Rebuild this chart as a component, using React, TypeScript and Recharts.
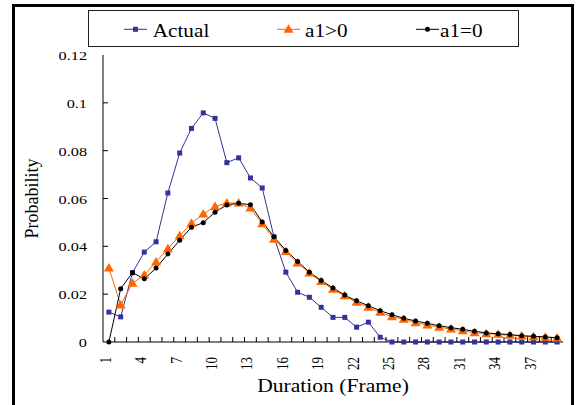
import React from "react";
import { LineChart, Line, XAxis, YAxis, Legend, Label } from "recharts";

const durations = [1,2,3,4,5,6,7,8,9,10,11,12,13,14,15,16,17,18,19,20,21,22,23,24,25,26,27,28,29,30,31,32,33,34,35,36,37,38,39];
const actual = [0.0125,0.0105,0.029,0.0376,0.0419,0.0623,0.079,0.0893,0.0958,0.0935,0.075,0.077,0.0686,0.0644,0.0439,0.0292,0.0208,0.0187,0.0145,0.0103,0.0103,0.0062,0.0083,0.002,0,0,0,0,0,0,0,0,0,0,0,0,0,0,0];
const a1Pos = [0.0309,0.0155,0.0246,0.028,0.0335,0.039,0.0444,0.0497,0.0535,0.0567,0.0581,0.0581,0.056,0.0494,0.043,0.0378,0.033,0.0288,0.0253,0.0221,0.0193,0.0166,0.0145,0.0124,0.0106,0.0095,0.0081,0.0071,0.0062,0.0054,0.0047,0.0039,0.0035,0.0032,0.0028,0.0025,0.0022,0.002,0.0017];
const a1Zero = [0,0.0223,0.029,0.0264,0.0309,0.0368,0.0425,0.048,0.0499,0.0543,0.0573,0.058,0.0574,0.0502,0.044,0.0383,0.0337,0.0292,0.0257,0.0226,0.0196,0.0172,0.0152,0.0131,0.0114,0.0099,0.0088,0.0078,0.0068,0.006,0.0053,0.0045,0.0038,0.0034,0.0031,0.0026,0.0024,0.0021,0.0018];
const xLabelTicks = [1,4,7,10,13,16,19,22,25,28,31,34,37];
const xBoundaryTicks = [1.5,2.5,3.5,4.5,5.5,6.5,7.5,8.5,9.5,10.5,11.5,12.5,13.5,14.5,15.5,16.5,17.5,18.5,19.5,20.5,21.5,22.5,23.5,24.5,25.5,26.5,27.5,28.5,29.5,30.5,31.5,32.5,33.5,34.5,35.5,36.5,37.5,38.5];
const yTicks = [0,0.02,0.04,0.06,0.08,0.1,0.12];
const yTickLabels = ["0","0.02","0.04","0.06","0.08","0.1","0.12"];

const data = durations.map((d, i) => ({ d, actual: actual[i], a1Pos: a1Pos[i], a1Zero: a1Zero[i] }));
const allXTicks = [...xLabelTicks, ...xBoundaryTicks].sort((a, b) => a - b);

const FONT = "'Liberation Serif', 'Times New Roman', serif";
const BLUE = "#333399";
const ORANGE = "#FF6600";
const BLACK = "#000000";

const Square = (props: any) => {
  const { cx, cy, fill } = props;
  if (cx == null || cy == null) return null;
  return <rect x={cx - 2.5} y={cy - 2.5} width={5} height={5} fill={fill} />;
};
const Triangle = (props: any) => {
  const { cx, cy, fill } = props;
  if (cx == null || cy == null) return null;
  return <polygon points={`${cx},${cy - 5} ${cx + 5},${cy + 3.5} ${cx - 5},${cy + 3.5}`} fill={fill} />;
};
const Dot = (props: any) => {
  const { cx, cy, fill } = props;
  if (cx == null || cy == null) return null;
  return <circle cx={cx} cy={cy} r={2.5} fill={fill} />;
};

const XTick = (props: any) => {
  const { x, y, payload } = props;
  const v = payload.value;
  if (Number.isInteger(v)) {
    return (
      <g transform={`translate(${x},${y + 15}) scale(1.25,1) rotate(-90)`}>
        <text x={0} y={0} dy={1.6} textAnchor="end" fontFamily={FONT} fontSize={13} fill="#000">{String(v)}</text>
      </g>
    );
  }
  return <line x1={x} y1={y} x2={x} y2={y - 5} stroke="#000" strokeWidth={1} />;
};

const YTick = (props: any) => {
  const { x, y, payload, index } = props;
  const v = payload.value;
  const i = yTicks.indexOf(v);
  const lbl = i >= 0 ? yTickLabels[i] : String(v);
  return (
    <g>
      {v > 0 && v < 0.12 && <line x1={x} y1={y} x2={x + 5} y2={y} stroke="#000" strokeWidth={1} />}
      <g transform={`translate(${x - 16},${y}) scale(1.25,1)`}>
        <text x={0} y={0} dy={5} textAnchor="end" fontFamily={FONT} fontSize={13} fill="#000">{lbl}</text>
      </g>
    </g>
  );
};

const legendItems = [
  { key: "actual", name: "Actual", color: BLUE, shape: "square", lineX: 36, textX: 64.7 },
  { key: "a1Pos", name: "a1>0", color: ORANGE, shape: "triangle", lineX: 189, textX: 217 },
  { key: "a1Zero", name: "a1=0", color: BLACK, shape: "circle", lineX: 328, textX: 352 },
];

const renderLegend = () => {
  return (
    <svg width={431} height={37} style={{ display: "block" }}>
      <rect x={0.5} y={0.5} width={430} height={36} fill="#fff" stroke="#202020" strokeWidth={1} />
      {legendItems.map((it) => {
        const cx = it.lineX + 11.5;
        const cy = 19.3;
        return (
          <g key={it.key}>
            <line x1={it.lineX} y1={cy} x2={it.lineX + 23} y2={cy} stroke={it.color} strokeWidth={1} />
            {it.shape === "square" && <Square cx={cx} cy={cy} fill={it.color} />}
            {it.shape === "triangle" && <Triangle cx={cx} cy={cy} fill={it.color} />}
            {it.shape === "circle" && <Dot cx={cx} cy={cy} fill={it.color} />}
            <g transform={`translate(${it.textX},26.5) scale(1.18,1)`}>
              <text x={0} y={0} fontFamily={FONT} fontSize={18} fill="#000">{it.name}</text>
            </g>
          </g>
        );
      })}
    </svg>
  );
};

export default function App() {
  return (
    <div style={{ position: "absolute", left: 0, top: 0, width: 581, height: 405, background: "#fff", overflow: "hidden" }}>
      <div style={{ position: "absolute", left: 12, top: 4, width: 556, height: 420, border: "3px solid #000" }} />
      <div style={{ position: "absolute", left: 0, top: 0 }}>
        <LineChart width={581} height={405} data={data} margin={{ top: 55, right: 18, bottom: 13, left: 0 }}>
          <XAxis
            xAxisId="main"
            dataKey="d"
            type="number"
            domain={[0.5, 39.5]}
            ticks={allXTicks}
            interval={0}
            tick={<XTick />}
            tickLine={false}
            tickSize={0}
            tickMargin={0}
            height={50}
            axisLine={{ stroke: "#000", strokeWidth: 1 }}
          >
            <Label
              content={(p: any) => {
                const vb = p.viewBox;
                const cx = vb.x + vb.width / 2;
                return (
                  <g transform={`translate(${cx},392) scale(1.2,1)`}>
                    <text x={0} y={0} textAnchor="middle" fontFamily={FONT} fontSize={18} fill="#000">Duration (Frame)</text>
                  </g>
                );
              }}
            />
          </XAxis>
          <XAxis xAxisId="top" orientation="top" type="number" domain={[0, 1]} height={0} tick={false} tickLine={false} axisLine={{ stroke: "#808080" }} />
          <YAxis
            yAxisId="main"
            type="number"
            domain={[0, 0.12]}
            ticks={yTicks}
            interval={0}
            tick={<YTick />}
            tickLine={false}
            tickSize={0}
            tickMargin={0}
            width={103}
            axisLine={{ stroke: "#000", strokeWidth: 1 }}
          >
            <Label
              content={(p: any) => {
                const vb = p.viewBox;
                const cy = vb.y + vb.height / 2;
                return (
                  <g transform={`translate(38,${cy}) rotate(-90)`}>
                    <text x={0} y={0} textAnchor="middle" fontFamily={FONT} fontSize={18} fill="#000">Probability</text>
                  </g>
                );
              }}
            />
          </YAxis>
          <YAxis yAxisId="right" orientation="right" type="number" domain={[0, 1]} width={0} tick={false} tickLine={false} axisLine={{ stroke: "#808080" }} />
          <Legend
            layout="horizontal"
            verticalAlign="middle"
            align="center"
            wrapperStyle={{ left: 88, top: 10, width: 431, height: 37 }}
            content={renderLegend}
          />
          <Line xAxisId="main" yAxisId="main" type="linear" dataKey="actual" name="Actual" stroke={BLUE} strokeWidth={1} dot={<Square fill={BLUE} />} activeDot={false} isAnimationActive={false} />
          <Line xAxisId="main" yAxisId="main" type="linear" dataKey="a1Pos" name="a1>0" stroke={ORANGE} strokeWidth={1} dot={<Triangle fill={ORANGE} />} activeDot={false} isAnimationActive={false} />
          <Line xAxisId="main" yAxisId="main" type="linear" dataKey="a1Zero" name="a1=0" stroke={BLACK} strokeWidth={1} dot={<Dot fill={BLACK} />} activeDot={false} isAnimationActive={false} />
        </LineChart>
      </div>
    </div>
  );
}
